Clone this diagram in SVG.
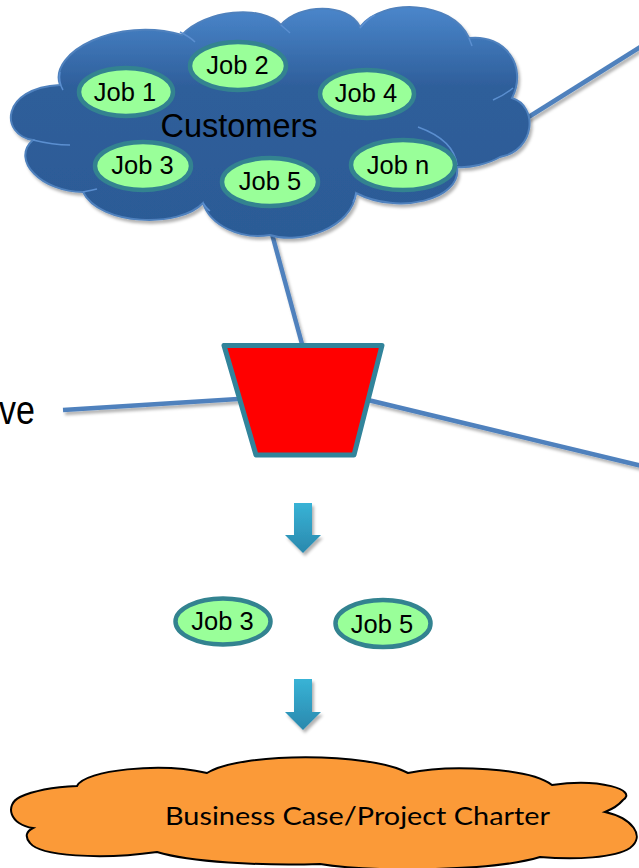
<svg xmlns="http://www.w3.org/2000/svg" width="639" height="868" viewBox="0 0 639 868">
<defs>
<linearGradient id="cloudGrad" x1="0" y1="0" x2="0" y2="1">
<stop offset="0" stop-color="#4a86cb"/>
<stop offset="0.35" stop-color="#2e5e9a"/>
<stop offset="1" stop-color="#2c5b96"/>
</linearGradient>
<linearGradient id="arrowGrad" x1="0" y1="0" x2="0" y2="1">
<stop offset="0" stop-color="#38b3d6"/>
<stop offset="1" stop-color="#2a88ad"/>
</linearGradient>
<filter id="shadow" x="-20%" y="-20%" width="140%" height="140%">
<feDropShadow dx="2" dy="3" stdDeviation="1.6" flood-color="#000" flood-opacity="0.3"/>
</filter>
</defs>
<style>
.conn{stroke:#4f81bd;stroke-width:4.5;fill:none;stroke-linecap:butt}
.job{fill:#99ff99;stroke:#338390;stroke-width:4.5}
.jobt{font-family:"Liberation Sans",Arial,sans-serif;font-size:25.5px;fill:#000;text-anchor:middle}
.crease{fill:none;stroke:#5b8fd0;stroke-width:1.5}
.arrow{fill:url(#arrowGrad)}
</style>

<g id="connectors" filter="url(#shadow)">
<line class="conn" x1="527" y1="118" x2="642" y2="46"/>
<line class="conn" x1="272" y1="234" x2="302" y2="344"/>
<line class="conn" x1="63" y1="410" x2="238" y2="399"/>
<line class="conn" x1="368" y1="400" x2="642" y2="466"/>
</g>

<g id="customers">
<path filter="url(#shadow)" fill="url(#cloudGrad)" stroke="#4f81bd" stroke-width="2" d="M 60,85 C 48,52 118,16 182,35 C 205,10 262,4 281,25 C 298,4 348,2 360,27 C 382,-2 452,0 469,38 C 505,34 528,66 512,98 C 538,106 536,150 500,157 C 488,164 470,168 457,167 C 462,200 398,215 356,193 C 352,228 300,245 270,235 C 240,240 210,225 203,203 C 180,228 100,226 83,192 C 42,192 10,160 33,140 C 0,135 0,88 60,85 Z"/>
<path class="crease" d="M 60,72 C 59,78 60,85 63,90"/>
<path class="crease" d="M 180,32 C 186,35 191,38 195,42"/>
<path class="crease" d="M 281,25 C 284,28 287,30 290,33"/>
<path class="crease" d="M 360,28 C 364,23 369,18 375,15"/>
<path class="crease" d="M 469,38 C 470,41 471,43 472,46"/>
<path class="crease" d="M 493,100 C 500,97 507,93 513,88"/>
<path class="crease" d="M 418,127 C 440,135 455,148 457,165"/>
<path class="crease" d="M 356,193 C 356,196 355,199 353,202"/>
<path class="crease" d="M 33,140 C 45,143 58,145 70,145"/>
<path class="crease" d="M 83,192 C 88,191 93,190 97,189"/>
<path class="crease" d="M 203,203 C 205,206 207,209 210,211"/>
<text x="239" y="137" font-family="'Liberation Sans',Arial,sans-serif" font-size="32.5" fill="#000" text-anchor="middle">Customers</text>
</g>

<g id="job1"><ellipse class="job" cx="126" cy="92" rx="47" ry="24"/><text class="jobt" x="125" y="101">Job 1</text></g>
<g id="job2"><ellipse class="job" cx="238" cy="66" rx="48" ry="24"/><text class="jobt" x="237.5" y="74">Job 2</text></g>
<g id="job4"><ellipse class="job" cx="367" cy="94" rx="47" ry="24"/><text class="jobt" x="366" y="102">Job 4</text></g>
<g id="job3"><ellipse class="job" cx="143" cy="166" rx="48" ry="24"/><text class="jobt" x="142.5" y="174">Job 3</text></g>
<g id="job5"><ellipse class="job" cx="270" cy="182" rx="48" ry="24"/><text class="jobt" x="270" y="190">Job 5</text></g>
<g id="jobn"><ellipse class="job" cx="403" cy="165" rx="52" ry="25"/><text class="jobt" x="398" y="174">Job n</text></g>

<g id="objective-label">
<text transform="translate(-1,424) scale(1,1.22)" font-family="'Liberation Sans',Arial,sans-serif" font-size="34" fill="#000">ve</text>
</g>

<g id="filter-bucket">
<polygon points="224,345.5 382,345.5 354,455 256,455" fill="#ff0000" stroke="#31849b" stroke-width="5" stroke-linejoin="round"/>
</g>

<g id="arrow1" filter="url(#shadow)">
<path class="arrow" d="M 294,503 H 312 V 535 H 321 L 303,553 L 285,535 H 294 Z"/>
</g>

<g id="job3-selected"><ellipse class="job" cx="223" cy="621.5" rx="47.5" ry="23" stroke="#31849b" stroke-width="5"/><text class="jobt" x="222.5" y="630">Job 3</text></g>
<g id="job5-selected"><ellipse class="job" cx="383" cy="623.5" rx="47.5" ry="23.5" stroke="#31849b" stroke-width="5"/><text class="jobt" x="382" y="633">Job 5</text></g>

<g id="arrow2" filter="url(#shadow)">
<path class="arrow" d="M 294,679 H 312 V 712 H 321 L 303,730 L 285,712 H 294 Z"/>
</g>

<g id="charter">
<path fill="#fb9a38" stroke="#000" stroke-width="2" d="M 33,828 C 10,825 4,805 20,797 C 35,790 55,787 77,786 C 85,770 160,762 207,773 C 240,752 370,752 408,773 C 450,764 530,768 552,785 C 600,778 638,790 623,800 C 618,806 610,810 605,812 C 632,818 646,836 630,848 C 615,858 575,860 540,857 C 490,872 370,872 320,864 C 260,866 190,862 157,852 C 100,860 40,856 30,843 C 24,836 27,831 33,828 Z"/>
<text x="165" y="825" font-family="Lato,'Open Sans',sans-serif" font-size="25" fill="#000" textLength="385" lengthAdjust="spacingAndGlyphs">Business Case/Project Charter</text>
</g>
</svg>
